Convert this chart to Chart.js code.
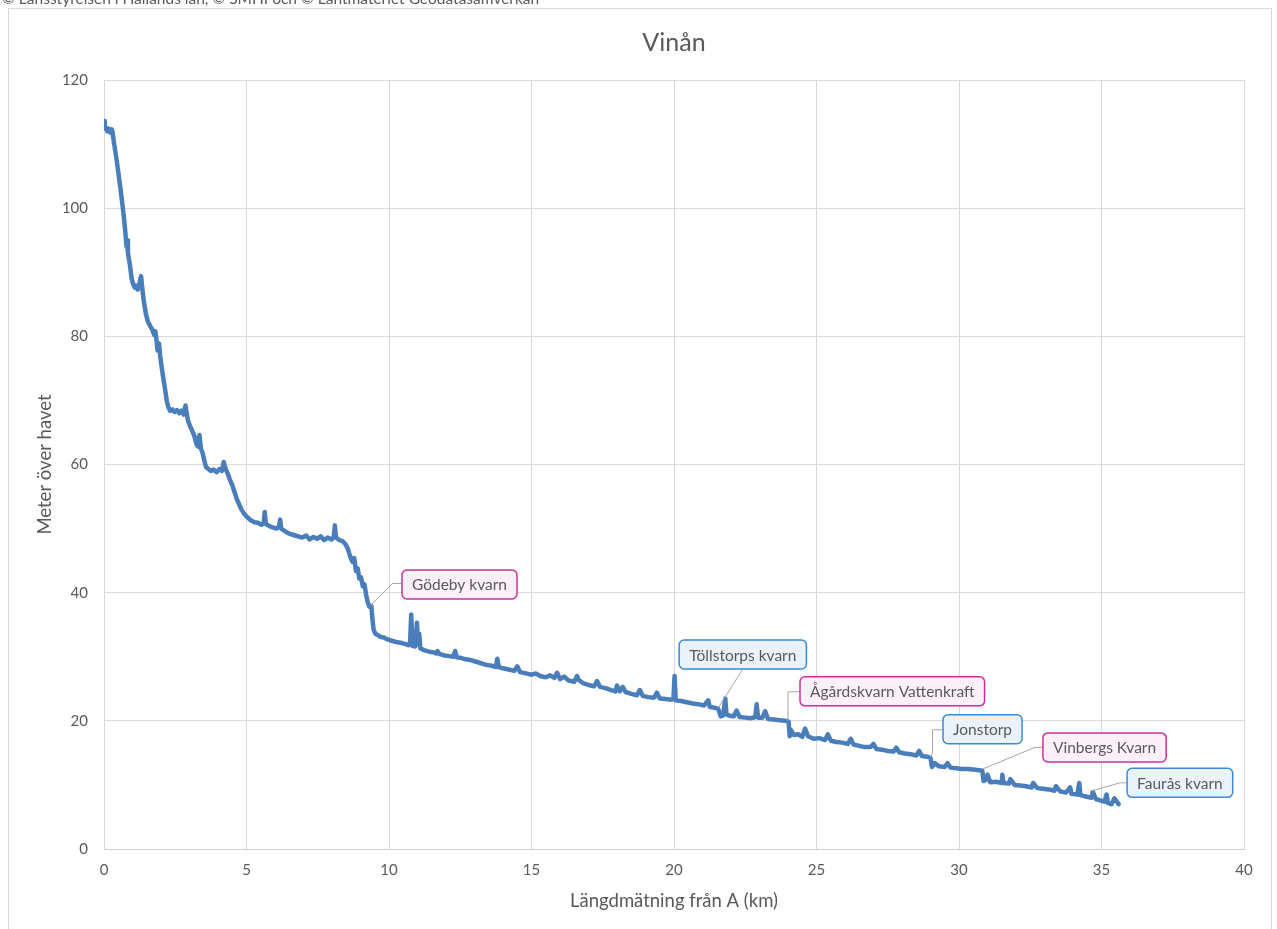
<!DOCTYPE html>
<html>
<head>
<meta charset="utf-8">
<script src="https://cdn.jsdelivr.net/npm/chart.js@4"></script>
<style>
  body { margin: 0; background: #fff; }
  #wrap { width: 1277px; height: 929px; }
</style>
</head>
<body>
<div id="wrap"><canvas id="c" width="1277" height="929"></canvas></div>
<script>
// längdmätning (km) och höjd (m ö.h.), avläst från originaldiagrammet
const distKm = [
  0.00, 0.03, 0.08, 0.12, 0.17, 0.22, 0.27, 0.30, 0.34, 0.40, 0.46, 0.52, 0.58, 0.64, 0.70, 0.75, 0.79, 0.81, 0.84, 0.87,
  0.92, 0.97, 1.02, 1.08, 1.13, 1.18, 1.25, 1.30, 1.34, 1.40, 1.47, 1.54, 1.62, 1.70, 1.76, 1.80, 1.84, 1.88, 1.93, 1.97,
  2.02, 2.08, 2.14, 2.20, 2.26, 2.32, 2.40, 2.48, 2.56, 2.64, 2.72, 2.80, 2.86, 2.90, 2.95, 3.02, 3.10, 3.18, 3.24, 3.30,
  3.35, 3.40, 3.46, 3.52, 3.58, 3.66, 3.75, 3.85, 3.95, 4.05, 4.14, 4.20, 4.26, 4.34, 4.42, 4.50, 4.58, 4.66, 4.74, 4.82,
  4.92, 5.02, 5.15, 5.28, 5.40, 5.52, 5.60, 5.64, 5.68, 5.80, 5.92, 6.05, 6.14, 6.18, 6.22, 6.35, 6.50, 6.65, 6.80, 6.95,
  7.10, 7.22, 7.35, 7.48, 7.60, 7.72, 7.85, 7.98, 8.06, 8.10, 8.14, 8.26, 8.38, 8.48, 8.56, 8.64, 8.72, 8.78, 8.84, 8.90,
  8.96, 9.02, 9.08, 9.14, 9.20, 9.26, 9.32, 9.38, 9.42, 9.46, 9.52, 9.60, 9.70, 9.82, 9.95, 10.10, 10.25, 10.40, 10.55, 10.68,
  10.74, 10.78, 10.82, 10.92, 10.98, 11.02, 11.06, 11.10, 11.25, 11.40, 11.55, 11.65, 11.70, 11.78, 11.95, 12.10, 12.25, 12.32, 12.38, 12.55,
  12.70, 12.85, 13.00, 13.15, 13.30, 13.45, 13.60, 13.75, 13.80, 13.85, 14.00, 14.20, 14.40, 14.60, 14.80, 15.00, 15.15, 15.30, 15.50, 15.65,
  15.80, 16.00, 16.15, 16.30, 16.50, 16.65, 16.80, 17.00, 17.20, 17.40, 17.60, 17.80, 17.95, 18.10, 18.20, 18.30, 18.50, 18.70, 18.90, 19.10,
  19.30, 19.50, 19.70, 19.90, 19.98, 20.02, 20.06, 20.25, 20.45, 20.65, 20.85, 21.05, 21.25, 21.45, 21.55, 21.60, 21.64, 21.72, 21.80, 21.84,
  21.95, 22.10, 22.30, 22.50, 22.70, 22.85, 22.90, 22.95, 23.10, 23.30, 23.50, 23.70, 23.90, 24.02, 24.06, 24.10, 24.20, 24.35, 24.50, 24.70,
  24.90, 25.10, 25.30, 25.50, 25.70, 25.90, 26.10, 26.30, 26.50, 26.70, 26.90, 27.10, 27.30, 27.50, 27.70, 27.90, 28.10, 28.30, 28.50, 28.70,
  28.90, 29.00, 29.05, 29.15, 29.30, 29.50, 29.70, 29.90, 30.10, 30.30, 30.50, 30.70, 30.82, 30.86, 30.95, 31.10, 31.30, 31.50, 31.52, 31.56,
  31.75, 31.95, 32.15, 32.35, 32.55, 32.75, 32.95, 33.15, 33.35, 33.55, 33.75, 33.95, 34.15, 34.22, 34.26, 34.45, 34.65, 34.80, 34.95, 35.10,
  35.18, 35.22, 35.35, 35.60
];
const heightM = [
  113.6, 112.8, 112.3, 112.0, 112.4, 111.8, 112.3, 111.9, 110.5, 108.8, 107.0, 105.0, 103.0, 100.8, 98.5, 96.2, 94.0, 95.0, 93.0, 92.2,
  90.8, 89.0, 88.2, 87.6, 87.9, 87.3, 88.4, 89.4, 87.6, 85.4, 83.5, 82.3, 81.6, 81.0, 80.2, 80.8, 79.5, 77.8, 78.9, 77.0,
  75.3, 73.5, 71.8, 70.0, 68.9, 68.4, 68.6, 68.2, 68.5, 68.0, 68.4, 67.8, 69.2, 68.0, 66.8, 66.0, 65.2, 64.3, 63.2, 62.8,
  64.6, 62.5, 61.8, 60.6, 59.6, 59.3, 59.0, 59.2, 58.8, 59.3, 59.0, 60.4, 59.4, 58.6, 57.6, 56.8, 55.7, 54.6, 53.8, 53.0,
  52.3, 51.8, 51.3, 51.0, 50.9, 50.6, 50.8, 52.6, 50.7, 50.4, 50.2, 50.0, 50.3, 51.4, 50.0, 49.6, 49.2, 49.0, 48.8, 48.6,
  48.9, 48.3, 48.7, 48.4, 48.8, 48.2, 48.6, 48.3, 48.6, 50.5, 48.6, 48.2, 48.0, 47.5, 46.8, 45.6, 44.8, 45.4, 43.4, 43.8,
  42.2, 42.4, 41.0, 41.3, 39.6, 38.4, 37.8, 37.9, 35.8, 34.2, 33.6, 33.4, 33.1, 33.0, 32.7, 32.5, 32.3, 32.2, 32.0, 31.8,
  32.3, 36.6, 31.7, 31.6, 35.3, 32.0, 33.6, 31.3, 31.0, 30.8, 30.7, 30.5, 30.9, 30.4, 30.2, 30.1, 30.0, 30.9, 29.9, 29.8,
  29.6, 29.5, 29.3, 29.1, 28.9, 28.7, 28.6, 28.4, 29.7, 28.4, 28.2, 28.0, 27.8, 27.6, 27.4, 27.2, 27.4, 27.0, 26.8, 27.1,
  26.7, 26.5, 26.9, 26.3, 26.1, 26.4, 25.9, 25.6, 25.4, 25.3, 25.1, 24.8, 24.6, 24.6, 25.3, 24.5, 24.2, 24.0, 23.9, 23.7,
  23.6, 23.5, 23.4, 23.3, 23.4, 27.0, 23.2, 23.1, 22.9, 22.7, 22.6, 22.4, 22.2, 22.0, 21.9, 21.2, 20.7, 20.8, 23.5, 21.0,
  20.8, 20.7, 20.6, 20.5, 20.4, 20.6, 22.6, 20.5, 20.5, 20.3, 20.2, 20.1, 20.0, 19.9, 17.6, 18.6, 17.8, 17.9, 17.5, 17.6,
  17.2, 17.3, 17.0, 16.9, 16.7, 16.6, 16.4, 16.3, 16.1, 15.9, 15.9, 15.6, 15.5, 15.3, 15.2, 15.1, 14.9, 14.8, 14.6, 14.5,
  14.4, 14.2, 12.8, 13.4, 12.9, 12.8, 12.7, 12.6, 12.5, 12.5, 12.4, 12.3, 12.2, 10.6, 10.8, 10.4, 10.5, 10.3, 11.6, 10.3,
  10.2, 10.0, 9.9, 9.8, 9.6, 9.5, 9.4, 9.3, 9.1, 9.0, 8.8, 8.6, 8.5, 10.3, 8.4, 8.2, 8.0, 7.8, 7.6, 7.4,
  8.5, 7.2, 7.0, 7.0
];
// små toppar i profilen (mätbrus), också avlästa
const spikeKm = [14.5, 15.9, 16.6, 17.3, 18.0, 18.8, 19.4, 21.2, 22.2, 23.2, 24.6, 25.4, 26.2, 27.0, 27.8, 28.6, 29.6, 31.0, 31.8, 32.6, 33.4, 33.9, 34.7, 35.45];
const spikeM = [28.5, 27.5, 27.0, 26.2, 25.5, 24.8, 24.4, 23.2, 21.6, 21.5, 18.8, 17.9, 17.2, 16.4, 15.8, 15.3, 13.4, 11.6, 10.9, 10.3, 9.8, 9.6, 8.9, 7.9];

const xTicks = [0, 5, 10, 15, 20, 25, 30, 35, 40];
const yTicks = [0, 20, 40, 60, 80, 100, 120];

// kvarnar längs ån
const calloutNames = ["Gödeby kvarn", "Töllstorps kvarn", "Ågårdskvarn Vattenkraft", "Jonstorp", "Vinbergs Kvarn", "Faurås kvarn"];
const calloutKm = [9.35, 21.55, 24.0, 29.0, 30.84, 34.6];
const calloutM = [38.0, 22.0, 20.0, 14.4, 12.5, 9.0];

const chartTitle = "Vinån";
const xTitle = "Längdmätning från A (km)";
const yTitle = "Meter över havet";
const credit = "© Länsstyrelsen i Hallands län, © SMHI och © Lantmäteriet Geodatasamverkan";

// layout for the callout boxes (px offsets from the anchor point)
const calloutLayout = [
  { kind: 'pink', bx: 31.5, by: -35.5, leader: [[22, -22], [31.5, -22]] },
  { kind: 'blue', bx: -39, by: -68, leader: [[24, -38]] },
  { kind: 'pink', bx: 12, by: -44, leader: [[0, -29], [12, -29]] },
  { kind: 'blue', bx: 12.5, by: -42, leader: [[2, -3], [2, -27], [12.5, -27]] },
  { kind: 'pink', bx: 60, by: -36, leader: [[52, -21.5], [60, -21.5]] },
  { kind: 'blue', bx: 37, by: -23, leader: [[30, -8.5], [37, -8.5]] }
];
const boxColors = {
  pink: { stroke: '#c9309e', fill: '#fdf0f9' },
  blue: { stroke: '#3a8ad8', fill: '#eaf3fc' }
};

const FONT = 'Lato, "Open Sans", sans-serif';
const textColor = '#595959';

const points = distKm.map((k, i) => ({ x: k, y: heightM[i] }))
  .concat(spikeKm.map((k, i) => ({ x: k, y: spikeM[i] })))
  .sort((a, b) => a.x - b.x);

const framePlugin = {
  id: 'frame',
  beforeDraw(chart) {
    const ctx = chart.ctx;
    ctx.save();
    ctx.fillStyle = '#fff';
    ctx.fillRect(0, 0, chart.width, chart.height);
    ctx.strokeStyle = '#d9d9d9';
    ctx.lineWidth = 1;
    ctx.strokeRect(8.5, 8.5, 1263, 940);
    ctx.fillStyle = textColor;
    ctx.font = '15.5px ' + FONT;
    ctx.textBaseline = 'alphabetic';
    ctx.textAlign = 'left';
    ctx.fillText(credit, 2, 4);
    ctx.restore();
  },
  afterDraw(chart) {
    const ctx = chart.ctx;
    const area = chart.chartArea;
    const cx = (area.left + area.right) / 2;
    ctx.save();
    ctx.fillStyle = textColor;
    ctx.textAlign = 'center';
    ctx.textBaseline = 'middle';
    ctx.font = '25px ' + FONT;
    ctx.fillText(chartTitle, cx, 43);
    ctx.font = '18.5px ' + FONT;
    ctx.fillText(xTitle, cx, 901);
    ctx.translate(45, (area.top + area.bottom) / 2);
    ctx.rotate(-Math.PI / 2);
    ctx.fillText(yTitle, 0, 0);
    ctx.restore();
  }
};

const calloutPlugin = {
  id: 'callouts',
  afterDatasetsDraw(chart) {
    const ctx = chart.ctx;
    const xs = chart.scales.x, ys = chart.scales.y;
    ctx.save();
    calloutNames.forEach((name, i) => {
      const ax = xs.getPixelForValue(calloutKm[i]);
      const ay = ys.getPixelForValue(calloutM[i]);
      const lay = calloutLayout[i];
      const col = boxColors[lay.kind];
      // leader line
      ctx.strokeStyle = '#a6a6a6';
      ctx.lineWidth = 1;
      ctx.beginPath();
      ctx.moveTo(ax, ay);
      lay.leader.forEach(p => ctx.lineTo(ax + p[0], ay + p[1]));
      ctx.stroke();
      // box
      ctx.font = '15.5px ' + FONT;
      const w = ctx.measureText(name).width + 20;
      const h = 29;
      const bx = ax + lay.bx, by = ay + lay.by;
      ctx.beginPath();
      ctx.roundRect(bx, by, w, h, 5);
      ctx.fillStyle = col.fill;
      ctx.fill();
      ctx.strokeStyle = col.stroke;
      ctx.lineWidth = 1.5;
      ctx.stroke();
      ctx.fillStyle = textColor;
      ctx.textAlign = 'left';
      ctx.textBaseline = 'middle';
      ctx.fillText(name, bx + 10, by + h / 2 + 1);
    });
    ctx.restore();
  }
};

const ctx = document.getElementById('c').getContext('2d');
new Chart(ctx, {
  type: 'line',
  data: {
    datasets: [{
      data: points,
      borderColor: '#4a7ebb',
      borderWidth: 4.5,
      borderJoinStyle: 'round',
      borderCapStyle: 'round',
      pointRadius: 0,
      tension: 0,
      fill: false
    }]
  },
  options: {
    responsive: false,
    animation: false,
    layout: { padding: { top: 80, right: 33, left: 0, bottom: 0 } },
    plugins: {
      legend: { display: false },
      tooltip: { enabled: false },
      title: { display: false }
    },
    scales: {
      x: {
        type: 'linear',
        min: 0,
        max: 40,
        afterFit: s => { s.height = 80; },
        afterBuildTicks: s => { s.ticks = xTicks.map(v => ({ value: v })); },
        grid: { color: '#d9d9d9', drawTicks: false },
        border: { color: '#d0d0d0' },
        ticks: { color: textColor, padding: 12, font: { family: FONT, size: 15 } }
      },
      y: {
        type: 'linear',
        min: 0,
        max: 120,
        afterFit: s => { s.width = 104; },
        afterBuildTicks: s => { s.ticks = yTicks.map(v => ({ value: v })); },
        grid: { color: '#d9d9d9', drawTicks: false },
        border: { color: '#d9d9d9' },
        ticks: { color: textColor, padding: 16, font: { family: FONT, size: 15 } }
      }
    }
  },
  plugins: [framePlugin, calloutPlugin]
});
</script>
</body>
</html>
